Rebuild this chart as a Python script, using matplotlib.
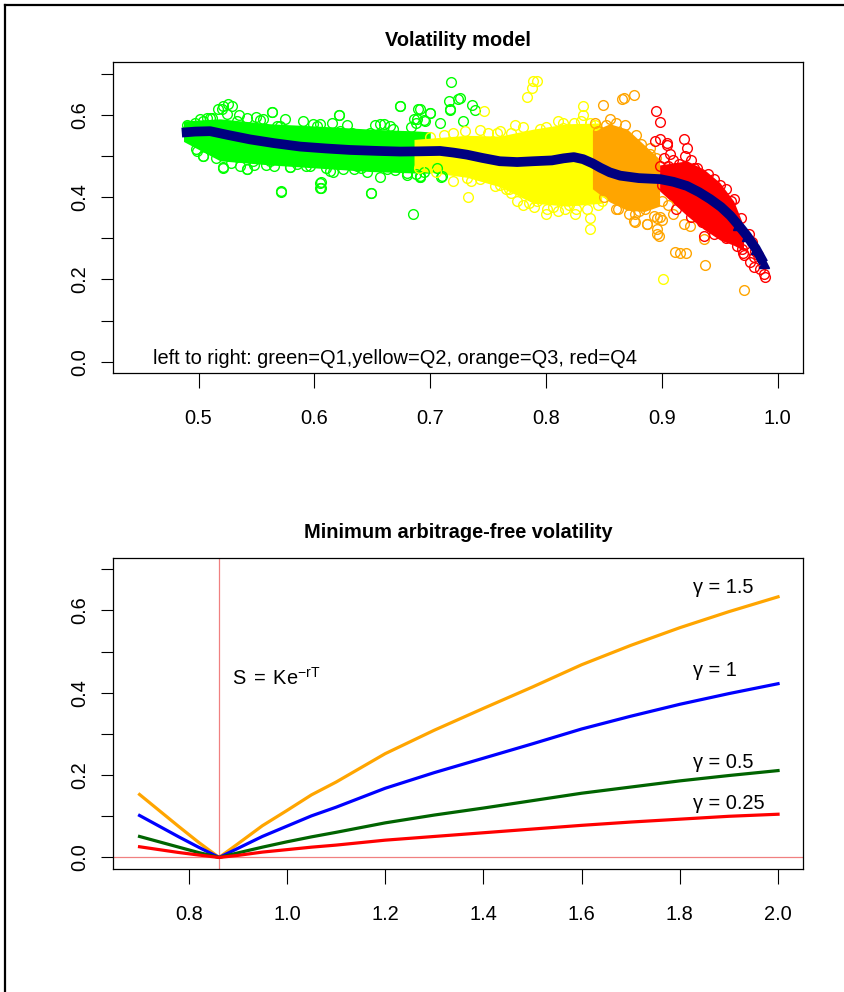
import numpy as np
import matplotlib.pyplot as plt

plt.rcParams["font.family"] = ["Liberation Sans", "DejaVu Sans"]
plt.rcParams["mathtext.fontset"] = "custom"
plt.rcParams["mathtext.rm"] = "Liberation Sans"
plt.rcParams["mathtext.it"] = "Liberation Sans:italic"

# ---------------------------------------------------------------------------
# Top panel: volatility model
# ---------------------------------------------------------------------------
FIT_X = [0.4855, 0.497, 0.510, 0.525, 0.5445, 0.565, 0.5877, 0.61, 0.6308, 0.655,
         0.674, 0.69, 0.7085, 0.72, 0.7316, 0.745, 0.760, 0.775, 0.789, 0.805,
         0.815, 0.824, 0.832, 0.840, 0.847, 0.855, 0.864, 0.88, 0.8985, 0.91,
         0.9216, 0.932, 0.9417, 0.951, 0.959, 0.966, 0.9734, 0.981, 0.9878]
FIT_Y = [0.5565, 0.559, 0.560, 0.551, 0.540, 0.531, 0.5226, 0.518, 0.5144, 0.512,
         0.5105, 0.511, 0.512, 0.508, 0.503, 0.495, 0.487, 0.485, 0.487, 0.489,
         0.494, 0.497, 0.492, 0.482, 0.471, 0.460, 0.452, 0.446, 0.4435, 0.437,
         0.427, 0.412, 0.395, 0.376, 0.355, 0.332, 0.306, 0.275, 0.240]

# dense cores of each quartile cloud (x, lower, upper)
GREEN_CORE_X = [0.487, 0.5186, 0.5617, 0.6049, 0.6481, 0.6913, 0.700]
GREEN_CORE_LO = [0.535, 0.488, 0.478, 0.470, 0.462, 0.458, 0.458]
GREEN_CORE_HI = [0.585, 0.590, 0.578, 0.572, 0.565, 0.560, 0.558]

YELLOW_CORE_X = [0.686, 0.7316, 0.760, 0.789, 0.818, 0.848]
YELLOW_CORE_LO = [0.465, 0.448, 0.425, 0.385, 0.378, 0.385]
YELLOW_CORE_HI = [0.540, 0.550, 0.548, 0.565, 0.578, 0.580]

ORANGE_CORE_X = [0.840, 0.855, 0.870, 0.885, 0.898]
ORANGE_CORE_LO = [0.420, 0.388, 0.368, 0.365, 0.378]
ORANGE_CORE_HI = [0.560, 0.578, 0.565, 0.526, 0.492]

RED_CORE_X = [0.898, 0.9216, 0.936, 0.950, 0.962, 0.9705]
RED_CORE_LO = [0.415, 0.355, 0.322, 0.296, 0.283, 0.270]
RED_CORE_HI = [0.478, 0.488, 0.468, 0.435, 0.390, 0.330]

GREEN_PTS = [
    (0.520, 0.6145), (0.525, 0.625), (0.529, 0.621), (0.563, 0.607), (0.621, 0.599),
    (0.674, 0.621), (0.691, 0.613), (0.700, 0.605), (0.686, 0.589), (0.688, 0.581),
    (0.718, 0.680), (0.716, 0.633), (0.717, 0.613), (0.724, 0.637), (0.521, 0.472),
    (0.542, 0.468), (0.571, 0.413), (0.605, 0.435), (0.605, 0.423), (0.649, 0.410),
    (0.685, 0.359), (0.579, 0.472), (0.616, 0.460), (0.645, 0.460), (0.688, 0.456),
    (0.691, 0.448), (0.709, 0.448), (0.498, 0.516), (0.504, 0.500), (0.501, 0.589),
    (0.510, 0.591), (0.553, 0.587), (0.570, 0.573), (0.599, 0.577), (0.622, 0.561),
    (0.660, 0.577), (0.668, 0.565), (0.536, 0.476), (0.565, 0.476), (0.593, 0.476),
    (0.634, 0.468), (0.674, 0.476),
    (0.7258, 0.640), (0.7359, 0.624), (0.7388, 0.612), (0.7172, 0.612), (0.6999, 0.604),
    (0.6942, 0.588), (0.7085, 0.580), (0.7287, 0.584), (0.6798, 0.459), (0.6913, 0.451),
    (0.7057, 0.471), (0.710, 0.451),
    (0.4912, 0.5645), (0.497, 0.5806), (0.5042, 0.5846), (0.5114, 0.5927), (0.5171, 0.6129),
    (0.5214, 0.6210), (0.5243, 0.6008), (0.533, 0.5846), (0.5416, 0.5927), (0.556, 0.5887),
    (0.5632, 0.6065), (0.5675, 0.5726), (0.5848, 0.5605), (0.602, 0.5726), (0.6049, 0.5766),
    (0.6193, 0.5565), (0.6216, 0.5984), (0.6323, 0.5565), (0.6481, 0.5565), (0.6568, 0.5766),
    (0.6654, 0.5726), (0.6740, 0.6210), (0.6769, 0.5484), (0.6898, 0.6129), (0.6884, 0.5887),
    (0.6956, 0.5846),
    (0.4984, 0.5121), (0.5042, 0.5000), (0.5214, 0.4702), (0.5416, 0.4677), (0.5473, 0.4879),
    (0.5617, 0.4879), (0.5790, 0.4718), (0.5963, 0.4758), (0.6136, 0.4637), (0.6251, 0.4677),
    (0.6366, 0.4758), (0.6568, 0.4476), (0.6625, 0.4677), (0.6798, 0.4532), (0.6913, 0.4476),
    (0.5712, 0.4137), (0.6055, 0.4355), (0.6055, 0.4210), (0.6487, 0.4097),
    (0.490, 0.575), (0.495, 0.545), (0.507, 0.592), (0.515, 0.495), (0.528, 0.482),
    (0.535, 0.600), (0.548, 0.478), (0.550, 0.595), (0.558, 0.478), (0.575, 0.590),
    (0.585, 0.480), (0.590, 0.585), (0.610, 0.470), (0.615, 0.580), (0.628, 0.575),
    (0.640, 0.470), (0.652, 0.575), (0.670, 0.465), (0.683, 0.570), (0.695, 0.460),
]

YELLOW_PTS = [
    (0.7891, 0.681), (0.792, 0.681), (0.7877, 0.665), (0.7834, 0.642), (0.8317, 0.620),
    (0.8317, 0.600), (0.7733, 0.576), (0.746, 0.608), (0.7575, 0.556), (0.7431, 0.564),
    (0.8237, 0.580), (0.8381, 0.580), (0.815, 0.568), (0.8007, 0.556), (0.733, 0.400),
    (0.756, 0.427), (0.7676, 0.419), (0.7316, 0.447), (0.7431, 0.443), (0.8381, 0.350),
    (0.8381, 0.322), (0.8165, 0.370), (0.8007, 0.370), (0.792, 0.390), (0.9008, 0.200),
    (0.700, 0.545), (0.712, 0.550), (0.720, 0.440), (0.775, 0.390), (0.780, 0.380),
    (0.806, 0.376), (0.826, 0.372), (0.845, 0.380), (0.770, 0.555), (0.800, 0.570),
    (0.810, 0.585), (0.760, 0.430), (0.690, 0.470), (0.705, 0.460),
    (0.720, 0.555), (0.730, 0.560), (0.735, 0.440), (0.750, 0.555), (0.765, 0.420),
    (0.770, 0.410), (0.785, 0.385), (0.790, 0.375), (0.795, 0.565), (0.800, 0.360),
    (0.810, 0.365), (0.815, 0.580), (0.820, 0.380), (0.830, 0.585), (0.835, 0.370),
    (0.842, 0.575), (0.848, 0.390), (0.825, 0.360), (0.780, 0.570), (0.760, 0.560),
]

ORANGE_PTS = [
    (0.849, 0.624), (0.8654, 0.638), (0.8755, 0.648), (0.8605, 0.580), (0.8784, 0.515),
    (0.8755, 0.342), (0.887, 0.334), (0.8956, 0.350), (0.8956, 0.310), (0.8669, 0.641),
    (0.877, 0.3387), (0.887, 0.3346), (0.8957, 0.3225), (0.8971, 0.3064), (0.9187, 0.3346),
    (0.9244, 0.3306), (0.936, 0.2984), (0.9115, 0.2677), (0.9158, 0.2645), (0.921, 0.2645),
    (0.9374, 0.2355), (0.971, 0.1750), (0.877, 0.359), (0.8928, 0.355), (0.8985, 0.351),
    (0.845, 0.560), (0.852, 0.575), (0.882, 0.530), (0.890, 0.505), (0.862, 0.372),
    (0.842, 0.580), (0.848, 0.545), (0.855, 0.590), (0.860, 0.370), (0.868, 0.575),
    (0.872, 0.360), (0.878, 0.550), (0.880, 0.365), (0.885, 0.370), (0.890, 0.520),
    (0.895, 0.495), (0.900, 0.390), (0.905, 0.380), (0.910, 0.360), (0.900, 0.345),
    (0.850, 0.400),
]

RED_PTS = [
    (0.8951, 0.6089), (0.8985, 0.5823), (0.8942, 0.5363), (0.898, 0.5419), (0.9043, 0.5323),
    (0.9043, 0.5258), (0.9187, 0.5419), (0.9216, 0.5202), (0.9201, 0.5000), (0.9014, 0.4960),
    (0.9072, 0.5040), (0.9648, 0.2823), (0.9691, 0.2742), (0.9711, 0.2581), (0.9777, 0.2903),
    (0.9791, 0.2540), (0.9763, 0.2419), (0.9791, 0.2298), (0.9849, 0.2258), (0.9878, 0.2137),
    (0.9892, 0.2056), (0.9374, 0.3508), (0.9417, 0.3306), (0.9504, 0.3225), (0.9561, 0.3064),
    (0.936, 0.3064), (0.905, 0.475), (0.912, 0.470), (0.928, 0.470), (0.945, 0.445),
    (0.955, 0.420), (0.962, 0.395), (0.900, 0.430), (0.912, 0.372), (0.925, 0.352),
    (0.898, 0.475), (0.905, 0.460), (0.910, 0.490), (0.915, 0.480), (0.920, 0.385),
    (0.925, 0.490), (0.930, 0.470), (0.935, 0.340), (0.940, 0.455), (0.945, 0.310),
    (0.950, 0.430), (0.955, 0.300), (0.960, 0.390), (0.965, 0.295), (0.968, 0.350),
    (0.972, 0.285), (0.975, 0.310), (0.980, 0.270), (0.983, 0.260), (0.970, 0.265),
]

# ---------------------------------------------------------------------------
# Bottom panel: minimum arbitrage-free volatility
# ---------------------------------------------------------------------------
MONEYNESS = [0.70, 0.74, 0.78, 0.82, 0.862, 0.90, 0.95, 1.00, 1.05, 1.10, 1.20,
             1.30, 1.40, 1.50, 1.60, 1.70, 1.80, 1.90, 2.00]
VOL_G150 = [0.153, 0.114, 0.075, 0.037, 0.0, 0.033, 0.077, 0.114, 0.152, 0.183,
            0.252, 0.309, 0.362, 0.414, 0.468, 0.515, 0.558, 0.597, 0.633]
VOL_G100 = [0.102, 0.076, 0.050, 0.025, 0.0, 0.022, 0.051, 0.076, 0.101, 0.122,
            0.168, 0.206, 0.241, 0.276, 0.312, 0.343, 0.372, 0.398, 0.422]
VOL_G050 = [0.051, 0.038, 0.025, 0.012, 0.0, 0.011, 0.025, 0.038, 0.050, 0.061,
            0.084, 0.103, 0.120, 0.138, 0.156, 0.171, 0.186, 0.199, 0.211]
VOL_G025 = [0.026, 0.019, 0.012, 0.006, 0.0, 0.005, 0.013, 0.019, 0.025, 0.030,
            0.042, 0.051, 0.060, 0.069, 0.078, 0.086, 0.093, 0.100, 0.105]
GAMMA_LABELS = ["γ = 1.5", "γ = 1", "γ = 0.5", "γ = 0.25"]
GAMMA_LABEL_Y = [0.656, 0.453, 0.230, 0.132]
ATM_LEVEL = 0.8625

Y_TICKS = [0.0, 0.1, 0.2, 0.3, 0.4, 0.5, 0.6, 0.7]
TOP_XTICKS = [0.5, 0.6, 0.7, 0.8, 0.9, 1.0]
BOT_XTICKS = [0.8, 1.0, 1.2, 1.4, 1.6, 1.8, 2.0]

FS = 14.4


def r_style(ax, xticks, xlim):
    ax.set_xlim(xlim)
    ax.set_ylim(-0.028, 0.728)
    ax.set_xticks(xticks)
    ax.set_xticklabels([f"{t:.1f}" for t in xticks])
    ax.set_yticks(Y_TICKS)
    ax.set_yticklabels([f"{t:.1f}" if i % 2 == 0 else "" for i, t in enumerate(Y_TICKS)])
    ax.tick_params(axis="x", length=10.8, width=0.8, pad=15, labelsize=FS)
    ax.tick_params(axis="y", length=8.6, width=0.8, pad=9, labelsize=FS)
    for lab in ax.get_yticklabels():
        lab.set_rotation(90)
        lab.set_va("center")
    for sp in ax.spines.values():
        sp.set_linewidth(0.9)


fig = plt.figure(figsize=(8.45, 9.92), dpi=100)

# frame of the original device (top and left edges)
fig.add_artist(plt.Line2D([5 / 845, 1.0], [1 - 5 / 992, 1 - 5 / 992], color="black", lw=1.6))
fig.add_artist(plt.Line2D([5 / 845, 5 / 845], [0.0, 1 - 5 / 992], color="black", lw=1.6))

ax1 = fig.add_axes([0.1341, 0.6237, 0.8162, 0.3138])
ax2 = fig.add_axes([0.1341, 0.1240, 0.8166, 0.3138])

# ---- top panel ----
clouds = [
    (GREEN_CORE_X, GREEN_CORE_LO, GREEN_CORE_HI, GREEN_PTS, "#00FF00"),
    (YELLOW_CORE_X, YELLOW_CORE_LO, YELLOW_CORE_HI, YELLOW_PTS, "#FFFF00"),
    (ORANGE_CORE_X, ORANGE_CORE_LO, ORANGE_CORE_HI, ORANGE_PTS, "#FFA500"),
    (RED_CORE_X, RED_CORE_LO, RED_CORE_HI, RED_PTS, "#FF0000"),
]
for cx, lo, hi, pts, col in clouds:
    ax1.fill_between(cx, lo, hi, color=col, lw=0)
for cx, lo, hi, pts, col in clouds:
    p = np.array(pts)
    ax1.plot(p[:, 0], p[:, 1], "o", mfc="none", mec=col, ms=7, mew=1.0)

ax1.plot(FIT_X, FIT_Y, color="#000080", lw=7, solid_capstyle="butt")
ax1.plot(FIT_X[-4:], FIT_Y[-4:], "^", color="#000080", ms=7)

ax1.text(0.4607, -0.006, "left to right: green=Q1,yellow=Q2, orange=Q3, red=Q4",
         fontsize=FS, ha="left", va="baseline")
r_style(ax1, TOP_XTICKS, (0.4264, 1.0218))
fig.text(0.542, 1 - 40 / 992, "Volatility model", fontsize=FS, fontweight="bold",
         ha="center", va="center")

# ---- bottom panel ----
ax2.axvline(ATM_LEVEL, color="#F08080", lw=0.9)
ax2.axhline(0.0, color="#F08080", lw=0.9)
for vals, col in [(VOL_G150, "#FFA500"), (VOL_G100, "#0000FF"),
                  (VOL_G050, "#006400"), (VOL_G025, "#FF0000")]:
    ax2.plot(MONEYNESS, vals, color=col, lw=2.3)
for lab, yv in zip(GAMMA_LABELS, GAMMA_LABEL_Y):
    ax2.text(1.827, yv, lab, fontsize=FS, ha="left", va="center")
ax2.text(0.8878, 0.4365, r"$\mathrm{S\;=\;Ke^{-rT}}$", fontsize=FS, ha="left", va="center")
r_style(ax2, BOT_XTICKS, (0.6466, 2.0515))
fig.text(0.542, 1 - 533 / 992, "Minimum arbitrage-free volatility", fontsize=FS,
         fontweight="bold", ha="center", va="center")

fig.savefig("out.png", dpi=100)
